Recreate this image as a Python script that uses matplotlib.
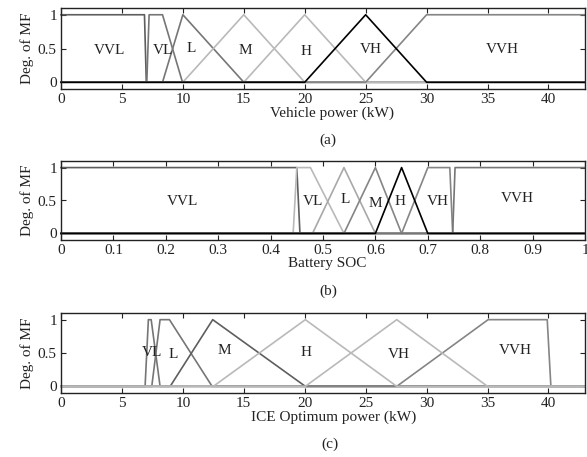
import matplotlib
matplotlib.use('Agg')
import matplotlib.pyplot as plt

plt.rcParams['font.family'] = ['Liberation Serif', 'DejaVu Serif']
plt.rcParams['font.size'] = 11

# ---- fonctions d'appartenance : points d'angle (x, y) ----
mf_names = ['VVL', 'VL', 'L', 'M', 'H', 'VH', 'VVH']

# (a) puissance vehicule (kW)
power_max = 43
power_x = [
    [0, 6.85, 7.0, power_max],
    [0, 7.04, 7.23, 8.33, 9.97, power_max],
    [0, 8.33, 10, 15, power_max],
    [0, 10, 15, 20, power_max],
    [0, 15, 20, 25, power_max],
    [0, 20, 25, 30, power_max],
    [0, 25, 30, power_max],
]
power_y = [
    [1, 1, 0, 0],
    [0, 0, 1, 1, 0, 0],
    [0, 0, 1, 0, 0],
    [0, 0, 1, 0, 0],
    [0, 0, 1, 0, 0],
    [0, 0, 1, 0, 0],
    [0, 0, 1, 1],
]

# (b) etat de charge batterie
soc_x = [
    [0, 0.45, 0.456, 1],
    [0, 0.443, 0.45, 0.476, 0.54, 1],
    [0, 0.48, 0.54, 0.6, 1],
    [0, 0.54, 0.6, 0.65, 1],
    [0, 0.6, 0.65, 0.7, 1],
    [0, 0.65, 0.7, 0.742, 0.7475, 1],
    [0, 0.7475, 0.752, 1],
]
soc_y = [
    [1, 1, 0, 0],
    [0, 0, 1, 1, 0, 0],
    [0, 0, 1, 0, 0],
    [0, 0, 1, 0, 0],
    [0, 0, 1, 0, 0],
    [0, 0, 1, 1, 0, 0],
    [0, 0, 1, 1],
]

# (c) puissance optimale moteur thermique (kW)
ice_names = ['VL', 'L', 'M', 'H', 'VH', 'VVH']
ice_x = [
    [0, 6.9, 7.17, 7.4, 8.13, power_max],
    [0, 7.45, 8.13, 8.9, 12.4, power_max],
    [0, 8.96, 12.45, 20.05, power_max],
    [0, 12.5, 20.05, 27.55, power_max],
    [0, 20.05, 27.55, 35.0, power_max],
    [0, 27.55, 35.05, 39.9, 40.2, power_max],
]
ice_y = [
    [0, 0, 1, 1, 0, 0],
    [0, 0, 1, 1, 0, 0],
    [0, 0, 1, 0, 0],
    [0, 0, 1, 0, 0],
    [0, 0, 1, 0, 0],
    [0, 0, 1, 1, 0, 0],
]

power_ticks = [0, 5, 10, 15, 20, 25, 30, 35, 40]
soc_ticks = [0, 0.1, 0.2, 0.3, 0.4, 0.5, 0.6, 0.7, 0.8, 0.9, 1]
soc_ticklabels = ['0', '0.1', '0.2', '0.3', '0.4', '0.5', '0.6', '0.7', '0.8', '0.9', '1']

# ---- styles ----
DARK = '#5e5e5e'
MID = '#767676'
GRAY = '#858585'
LIGHT = '#b9b9b9'
BLACK = '#000000'

power_colors = [DARK, MID, MID, LIGHT, LIGHT, BLACK, GRAY]
power_order = [0, 1, 2, 3, 4, 6, 5]
power_lab = [(4.0, 0.47), (8.4, 0.47), (10.7, 0.5), (15.1, 0.47), (20.1, 0.45), (25.4, 0.48), (36.2, 0.48)]

soc_colors = [DARK, LIGHT, '#a8a8a8', GRAY, BLACK, GRAY, MID]
soc_order = [0, 1, 2, 3, 5, 6, 4]
soc_lab = [(0.232, 0.48), (0.48, 0.48), (0.542, 0.52), (0.599, 0.46), (0.647, 0.48), (0.72, 0.48), (0.87, 0.53)]

ice_colors = [MID, MID, DARK, LIGHT, LIGHT, GRAY]
ice_order = [0, 1, 2, 5, 3, 4]
ice_lab = [(7.45, 0.5), (9.2, 0.47), (13.4, 0.53), (20.1, 0.5), (27.7, 0.48), (37.3, 0.53)]

W, H = 587, 457
fig = plt.figure(figsize=(W / 100, H / 100), dpi=100)


def make_axes(top_px, bottom_px):
    left, right = 61, 585
    return fig.add_axes([left / W, 1 - bottom_px / H, (right - left) / W, (bottom_px - top_px) / H])


def style_axes(ax, xmax, xticks, xticklabels=None):
    ax.set_xlim(0, xmax)
    ax.set_ylim(-0.1, 1.1)
    ax.set_yticks([0, 0.5, 1])
    ax.set_yticklabels(['0', '0.5', '1'])
    ax.set_xticks(xticks)
    if xticklabels is not None:
        ax.set_xticklabels(xticklabels)
    ax.tick_params(direction='in', top=True, right=True, length=3.5, width=0.8,
                   labelsize=11, pad=3, colors='#222222')
    for s in ax.spines.values():
        s.set_linewidth(1.0)
        s.set_color('#222222')
    ax.set_ylabel('Deg. of MF', fontsize=11, color='#222222', labelpad=3)


def draw_panel(ax, xs, ys, names, colors, order, lab):
    for i in order:
        ax.plot(xs[i], ys[i], color=colors[i], lw=1.2, solid_joinstyle='round', clip_on=False)
    for name, (tx, ty) in zip(names, lab):
        ax.text(tx, ty, name, ha='center', va='center', fontsize=11, color='#222222')


def fig_text(x_px, y_px, s):
    fig.text(x_px / W, 1 - y_px / H, s, ha='center', va='center', fontsize=11, color='#222222')


# (a)
ax1 = make_axes(8, 89)
draw_panel(ax1, power_x, power_y, mf_names, power_colors, power_order, power_lab)
style_axes(ax1, power_max, power_ticks)
fig_text(332, 113, 'Vehicle power (kW)')
fig_text(328, 140, '(a)')

# (b)
ax2 = make_axes(161, 240)
draw_panel(ax2, soc_x, soc_y, mf_names, soc_colors, soc_order, soc_lab)
style_axes(ax2, 1, soc_ticks, soc_ticklabels)
fig_text(327, 264, 'Battery SOC')
fig_text(328, 291, '(b)')

# (c)
ax3 = make_axes(313, 393)
draw_panel(ax3, ice_x, ice_y, ice_names, ice_colors, ice_order, ice_lab)
style_axes(ax3, power_max, power_ticks)
fig_text(334, 417, 'ICE Optimum power (kW)')
fig_text(330, 444, '(c)')

fig.savefig('out.png', dpi=100)
